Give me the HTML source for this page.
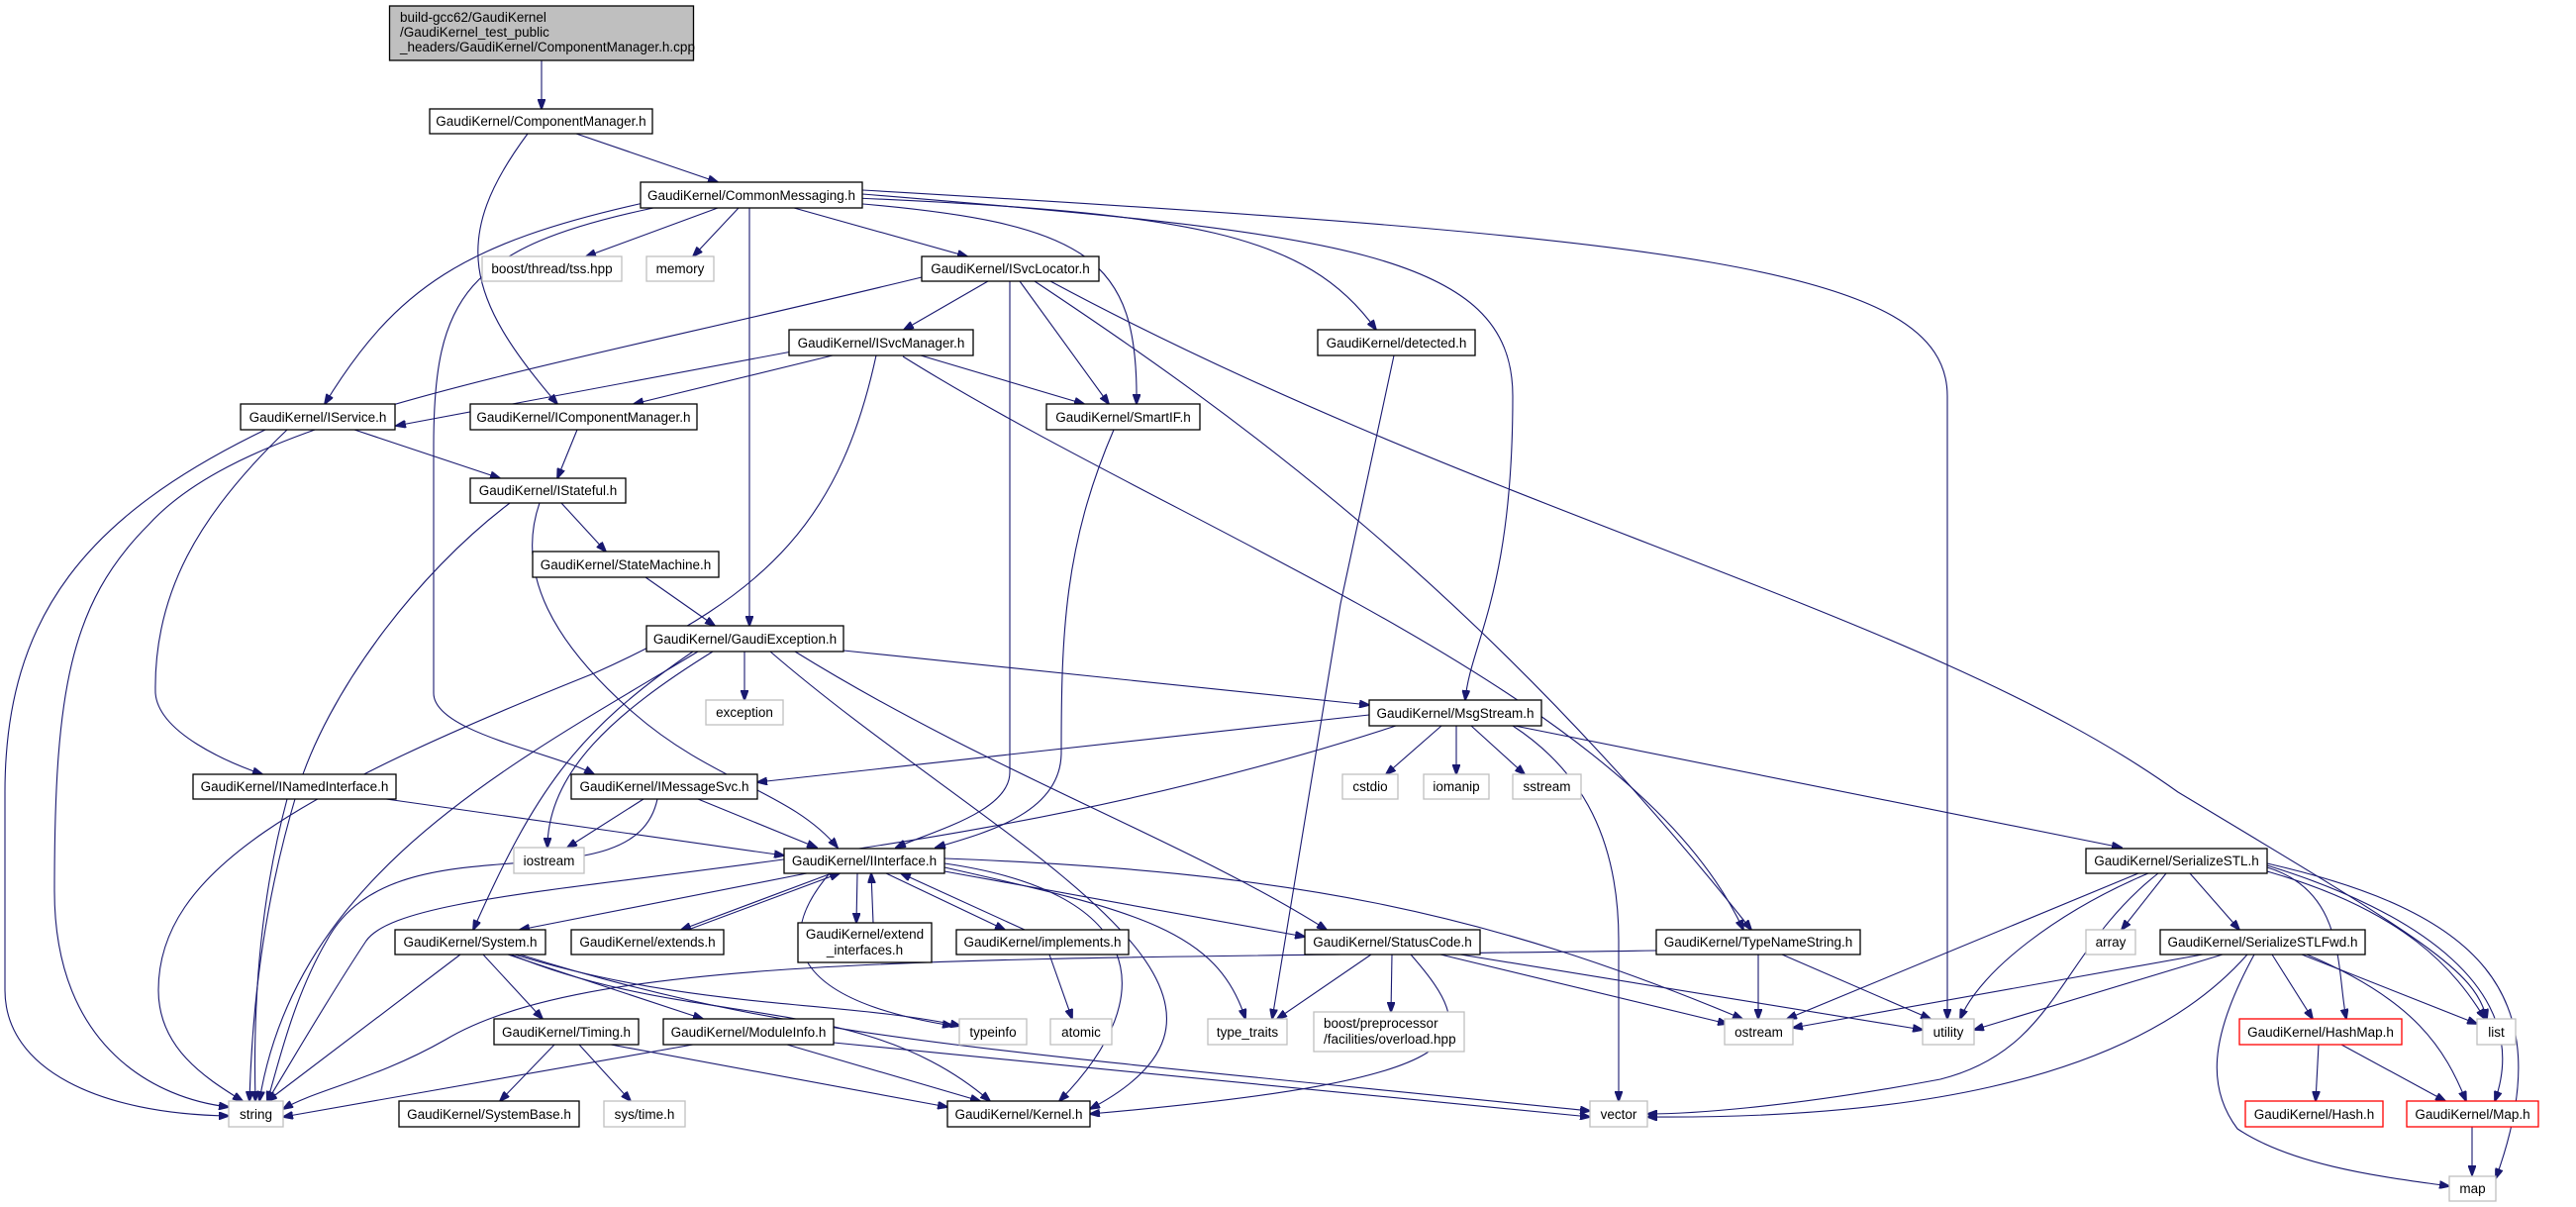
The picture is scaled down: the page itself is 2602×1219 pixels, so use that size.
<!DOCTYPE html>
<html><head><meta charset="utf-8"><style>
html,body{margin:0;padding:0;background:#fff;}
svg{display:block;}
text{font-family:"Liberation Sans",sans-serif;font-size:13.5px;fill:#000;}
.n{fill:#fff;stroke:#000;stroke-width:1.3;}
.g{fill:#fff;stroke:#bfbfbf;stroke-width:1.3;}
.r{fill:#fff;stroke:#ff0000;stroke-width:1.3;}
.e{fill:none;stroke:#191970;stroke-width:1.1;marker-end:url(#a);}
</style></head><body>
<svg width="2602" height="1219" viewBox="0 0 2602 1219" xmlns="http://www.w3.org/2000/svg">
<defs><marker id="a" markerWidth="11" markerHeight="8" refX="10" refY="4" orient="auto" markerUnits="userSpaceOnUse"><path d="M0,0 L11,4 L0,8 z" fill="#191970" stroke="#191970"/></marker></defs>
<g>
<path class="e" d="M547,61 L547,110"/>
<path class="e" d="M582,135 L725,184"/>
<path class="e" d="M533,135 C455,240 470,300 563,408"/>
<path class="e" d="M725,210 L592,259"/>
<path class="e" d="M746,210 L700,259"/>
<path class="e" d="M802,210 L977,259"/>
<path class="e" d="M650,205 C470,245 400,290 328,408"/>
<path class="e" d="M660,210 C470,250 438,300 438,450 L438,700 C438,740 560,760 600,782"/>
<path class="e" d="M757,210 L757,632"/>
<path class="e" d="M860,205 C1100,225 1150,260 1148,408"/>
<path class="e" d="M865,200 C1200,215 1320,235 1390,333"/>
<path class="e" d="M871,196 C1350,235 1528,255 1528,400 C1528,600 1485,650 1480,707"/>
<path class="e" d="M871,192 C1700,240 1967,270 1967,400 L1967,1029"/>
<path class="e" d="M931,280 C520,380 250,420 150,530 C70,610 55,700 55,900 C55,1060 160,1110 231,1118"/>
<path class="e" d="M998,284 L913,333"/>
<path class="e" d="M1020,284 L1020,780 C1020,820 940,840 905,856"/>
<path class="e" d="M1030,284 L1120,408"/>
<path class="e" d="M1045,284 C1250,420 1500,600 1769,939"/>
<path class="e" d="M1061,284 C1500,520 1950,620 2200,800 C2450,950 2500,980 2512,1029"/>
<path class="e" d="M800,355 L400,430"/>
<path class="e" d="M841,359 L640,408"/>
<path class="e" d="M930,359 L1095,408"/>
<path class="e" d="M885,359 C850,520 780,600 600,680 C300,800 160,880 160,1000 C160,1060 210,1090 245,1112"/>
<path class="e" d="M912,360 C1200,540 1650,700 1761,939"/>
<path class="e" d="M268,434 C90,520 5,620 5,800 L5,1000 C5,1080 100,1125 231,1127"/>
<path class="e" d="M290,434 C200,520 155,600 157,700 C160,740 230,770 265,782"/>
<path class="e" d="M358,434 L505,483"/>
<path class="e" d="M583,434 L563,483"/>
<path class="e" d="M1125,434 C1075,550 1072,640 1072,760 C1072,820 1000,840 945,856"/>
<path class="e" d="M1408,359 L1354,610 L1285,1029"/>
<path class="e" d="M515,508 C420,580 330,700 300,800 C270,900 255,1000 252,1112"/>
<path class="e" d="M545,508 C520,580 560,650 640,720 C720,790 800,800 846,856"/>
<path class="e" d="M567,508 L612,557"/>
<path class="e" d="M652,583 L722,632"/>
<path class="e" d="M752,658 L752,707"/>
<path class="e" d="M852,657 L1383,712"/>
<path class="e" d="M705,658 C520,770 300,880 262,1112"/>
<path class="e" d="M720,658 C620,720 553,780 553,856"/>
<path class="e" d="M700,658 C580,740 540,800 478,939"/>
<path class="e" d="M803,658 C1000,780 1200,850 1340,939"/>
<path class="e" d="M778,658 C1000,850 1330,1000 1101,1120"/>
<path class="e" d="M1383,722 L765,790"/>
<path class="e" d="M1410,733 C900,900 420,880 370,950 C330,1010 290,1080 270,1112"/>
<path class="e" d="M1456,733 L1400,782"/>
<path class="e" d="M1471,733 L1471,782"/>
<path class="e" d="M1486,733 L1540,782"/>
<path class="e" d="M1528,733 C1600,780 1635,850 1635,950 L1635,1112"/>
<path class="e" d="M1530,733 L2143,856"/>
<path class="e" d="M390,807 L792,864"/>
<path class="e" d="M290,807 C265,900 255,1000 258,1112"/>
<path class="e" d="M650,807 L573,856"/>
<path class="e" d="M705,807 L825,856"/>
<path class="e" d="M664,807 C640,920 400,820 330,950 C295,1010 280,1080 270,1112"/>
<path class="e" d="M815,882 L525,939"/>
<path class="e" d="M840,882 L688,939"/>
<path class="e" d="M695,939 L848,882"/>
<path class="e" d="M866,882 L865,932"/>
<path class="e" d="M882,932 L880,882"/>
<path class="e" d="M895,882 L1015,939"/>
<path class="e" d="M1035,939 L910,882"/>
<path class="e" d="M1060,964 L1083,1029"/>
<path class="e" d="M838,882 C780,950 800,1010 962,1036"/>
<path class="e" d="M954,876 C1150,920 1230,940 1258,1029"/>
<path class="e" d="M954,872 C1150,900 1180,1000 1070,1112"/>
<path class="e" d="M954,880 L1318,946"/>
<path class="e" d="M954,867 C1300,880 1500,920 1760,1029"/>
<path class="e" d="M465,964 L270,1112"/>
<path class="e" d="M488,964 L548,1029"/>
<path class="e" d="M513,964 L710,1029"/>
<path class="e" d="M516,964 C700,1040 870,1000 1000,1112"/>
<path class="e" d="M520,964 C700,1020 850,1010 970,1036"/>
<path class="e" d="M525,964 C800,1050 1000,1060 1606,1122"/>
<path class="e" d="M560,1055 L505,1112"/>
<path class="e" d="M585,1055 L637,1112"/>
<path class="e" d="M617,1055 L957,1118"/>
<path class="e" d="M700,1055 L286,1128"/>
<path class="e" d="M795,1055 L990,1112"/>
<path class="e" d="M842,1053 L1606,1128"/>
<path class="e" d="M1385,964 L1290,1029"/>
<path class="e" d="M1406,964 L1405,1022"/>
<path class="e" d="M1425,964 C1500,1050 1500,1090 1101,1125"/>
<path class="e" d="M1455,964 L1745,1034"/>
<path class="e" d="M1475,964 L1942,1040"/>
<path class="e" d="M1673,960 C1000,970 600,960 450,1050 C380,1090 320,1100 286,1120"/>
<path class="e" d="M1776,964 L1776,1029"/>
<path class="e" d="M1800,964 L1950,1029"/>
<path class="e" d="M2160,882 L1805,1029"/>
<path class="e" d="M2170,882 C2080,920 2000,980 1980,1029"/>
<path class="e" d="M2180,882 C2080,960 2080,1060 1960,1090 C1800,1120 1700,1125 1664,1125"/>
<path class="e" d="M2188,882 L2143,939"/>
<path class="e" d="M2212,882 L2262,939"/>
<path class="e" d="M2290,876 C2370,900 2360,980 2370,1029"/>
<path class="e" d="M2290,880 C2430,920 2480,980 2510,1029"/>
<path class="e" d="M2290,874 C2440,920 2560,1000 2520,1112"/>
<path class="e" d="M2290,872 C2500,920 2590,1000 2521,1190"/>
<path class="e" d="M2225,964 L1811,1038"/>
<path class="e" d="M2245,964 L1994,1040"/>
<path class="e" d="M2270,964 C2150,1100 1900,1130 1664,1128"/>
<path class="e" d="M2295,964 L2336,1029"/>
<path class="e" d="M2325,964 L2502,1034"/>
<path class="e" d="M2330,964 C2440,1010 2470,1060 2491,1112"/>
<path class="e" d="M2277,964 C2230,1050 2230,1100 2260,1140 C2320,1180 2420,1190 2474,1198"/>
<path class="e" d="M2342,1055 L2339,1112"/>
<path class="e" d="M2365,1055 L2470,1112"/>
<path class="e" d="M2497,1138 L2497,1187"/>
</g>
<g>
<rect x="393.5" y="6" width="307" height="55" fill="#bfbfbf" stroke="#000" stroke-width="1.3"/>
<text x="404" y="22">build-gcc62/GaudiKernel</text>
<text x="404" y="37">/GaudiKernel_test_public</text>
<text x="404" y="52">_headers/GaudiKernel/ComponentManager.h.cpp</text>
</g>
<g text-anchor="middle">
<rect class="n" x="434" y="110" width="225" height="25"/><text x="546.5" y="127">GaudiKernel/ComponentManager.h</text>
<rect class="n" x="647" y="184" width="224" height="26"/><text x="759" y="202">GaudiKernel/CommonMessaging.h</text>
<rect class="g" x="487" y="259" width="141" height="25"/><text x="557.5" y="276">boost/thread/tss.hpp</text>
<rect class="g" x="653" y="259" width="68" height="25"/><text x="687" y="276">memory</text>
<rect class="n" x="931" y="259" width="179" height="25"/><text x="1020.5" y="276">GaudiKernel/ISvcLocator.h</text>
<rect class="n" x="797" y="333" width="186" height="26"/><text x="890" y="351">GaudiKernel/ISvcManager.h</text>
<rect class="n" x="1331" y="333" width="159" height="26"/><text x="1410.5" y="351">GaudiKernel/detected.h</text>
<rect class="n" x="243" y="408" width="156" height="26"/><text x="321" y="426">GaudiKernel/IService.h</text>
<rect class="n" x="475" y="408" width="229" height="26"/><text x="589.5" y="426">GaudiKernel/IComponentManager.h</text>
<rect class="n" x="1057" y="408" width="155" height="26"/><text x="1134.5" y="426">GaudiKernel/SmartIF.h</text>
<rect class="n" x="475" y="483" width="157" height="25"/><text x="553.5" y="500">GaudiKernel/IStateful.h</text>
<rect class="n" x="538" y="557" width="188" height="26"/><text x="632" y="575">GaudiKernel/StateMachine.h</text>
<rect class="n" x="653" y="632" width="199" height="26"/><text x="752.5" y="650">GaudiKernel/GaudiException.h</text>
<rect class="g" x="713" y="707" width="78" height="25"/><text x="752" y="724">exception</text>
<rect class="n" x="1383" y="707" width="174" height="26"/><text x="1470" y="725">GaudiKernel/MsgStream.h</text>
<rect class="g" x="1356" y="782" width="56" height="25"/><text x="1384" y="799">cstdio</text>
<rect class="g" x="1438" y="782" width="66" height="25"/><text x="1471" y="799">iomanip</text>
<rect class="g" x="1528" y="782" width="69" height="25"/><text x="1562.5" y="799">sstream</text>
<rect class="n" x="195" y="782" width="205" height="25"/><text x="297.5" y="799">GaudiKernel/INamedInterface.h</text>
<rect class="n" x="577" y="782" width="188" height="25"/><text x="671" y="799">GaudiKernel/IMessageSvc.h</text>
<rect class="g" x="519" y="856" width="71" height="26"/><text x="554.5" y="874">iostream</text>
<rect class="n" x="792" y="857" width="162" height="25"/><text x="873" y="874">GaudiKernel/IInterface.h</text>
<rect class="n" x="2107" y="857" width="183" height="25"/><text x="2198.5" y="874">GaudiKernel/SerializeSTL.h</text>
<rect class="n" x="399" y="939" width="152" height="25"/><text x="475" y="956">GaudiKernel/System.h</text>
<rect class="n" x="577" y="939" width="154" height="25"/><text x="654" y="956">GaudiKernel/extends.h</text>
<rect class="n" x="806" y="932" width="135" height="40"/><text x="873.5" y="948">GaudiKernel/extend</text><text x="873.5" y="964">_interfaces.h</text>
<rect class="n" x="966" y="939" width="174" height="25"/><text x="1053" y="956">GaudiKernel/implements.h</text>
<rect class="n" x="1318" y="939" width="177" height="25"/><text x="1406.5" y="956">GaudiKernel/StatusCode.h</text>
<rect class="n" x="1673" y="939" width="206" height="25"/><text x="1776" y="956">GaudiKernel/TypeNameString.h</text>
<rect class="g" x="2107" y="939" width="50" height="25"/><text x="2132" y="956">array</text>
<rect class="n" x="2182" y="939" width="207" height="25"/><text x="2285.5" y="956">GaudiKernel/SerializeSTLFwd.h</text>
<rect class="n" x="499" y="1029" width="146" height="26"/><text x="572" y="1047">GaudiKernel/Timing.h</text>
<rect class="n" x="670" y="1029" width="172" height="26"/><text x="756" y="1047">GaudiKernel/ModuleInfo.h</text>
<rect class="g" x="969" y="1029" width="68" height="26"/><text x="1003" y="1047">typeinfo</text>
<rect class="g" x="1061" y="1029" width="62" height="26"/><text x="1092" y="1047">atomic</text>
<rect class="g" x="1220" y="1029" width="80" height="26"/><text x="1260" y="1047">type_traits</text>
<rect class="g" x="1327" y="1022" width="152" height="40"/><text x="1337" y="1038" text-anchor="start">boost/preprocessor</text><text x="1337" y="1054" text-anchor="start">/facilities/overload.hpp</text>
<rect class="g" x="1742" y="1029" width="69" height="26"/><text x="1776.5" y="1047">ostream</text>
<rect class="g" x="1942" y="1029" width="52" height="26"/><text x="1968" y="1047">utility</text>
<rect class="r" x="2262" y="1029" width="164" height="26"/><text x="2344" y="1047">GaudiKernel/HashMap.h</text>
<rect class="g" x="2502" y="1029" width="39" height="26"/><text x="2521.5" y="1047">list</text>
<rect class="g" x="231" y="1112" width="55" height="26"/><text x="258.5" y="1130">string</text>
<rect class="n" x="403" y="1112" width="182" height="26"/><text x="494" y="1130">GaudiKernel/SystemBase.h</text>
<rect class="g" x="610" y="1112" width="82" height="26"/><text x="651" y="1130">sys/time.h</text>
<rect class="n" x="957" y="1112" width="144" height="26"/><text x="1029" y="1130">GaudiKernel/Kernel.h</text>
<rect class="g" x="1606" y="1112" width="58" height="26"/><text x="1635" y="1130">vector</text>
<rect class="r" x="2268" y="1112" width="139" height="26"/><text x="2337.5" y="1130">GaudiKernel/Hash.h</text>
<rect class="r" x="2431" y="1112" width="133" height="26"/><text x="2497.5" y="1130">GaudiKernel/Map.h</text>
<rect class="g" x="2474" y="1188" width="47" height="25"/><text x="2497.5" y="1205">map</text>
</g>
</svg>
</body></html>
